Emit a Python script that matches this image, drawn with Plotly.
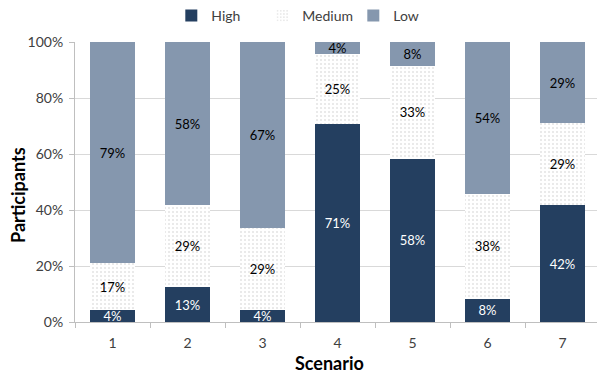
import plotly.graph_objects as go

scenarios = [1, 2, 3, 4, 5, 6, 7]
high = [4.2, 12.5, 4.2, 70.8, 58.3, 8.3, 41.7]
medium = [16.7, 29.2, 29.2, 25.0, 33.3, 37.5, 29.2]
low = [79.2, 58.3, 66.7, 4.2, 8.3, 54.2, 29.2]
y_ticks = [0, 20, 40, 60, 80, 100]
y_tick_labels = ["0%", "20%", "40%", "60%", "80%", "100%"]

FONT = "Lato, Carlito, 'Open Sans', sans-serif"
BAR_W = 0.61

fig = go.Figure()
fig.add_bar(
    x=scenarios, y=high, name="High", width=BAR_W,
    marker=dict(color="#243F60", line=dict(width=0)),
    texttemplate="%{y:.0f}%", textposition="inside", insidetextanchor="middle",
    textfont=dict(color="white", size=13, family=FONT),
    constraintext="none",
)
fig.add_bar(
    x=scenarios, y=medium, name="Medium", width=BAR_W,
    marker=dict(color="white", line=dict(width=0),
                pattern=dict(shape=".", fgcolor="#C8C8C8", bgcolor="white",
                             size=4, solidity=0.2)),
    texttemplate="%{y:.0f}%", textposition="inside", insidetextanchor="middle",
    textfont=dict(color="black", size=13, family=FONT),
    constraintext="none",
)
fig.add_bar(
    x=scenarios, y=low, name="Low", width=BAR_W,
    marker=dict(color="#8597AE", line=dict(width=0)),
    texttemplate="%{y:.0f}%", textposition="inside", insidetextanchor="middle",
    textfont=dict(color="black", size=13, family=FONT),
    constraintext="none",
)

fig.update_layout(
    barmode="stack",
    width=597, height=378,
    margin=dict(l=75, r=0, t=42, b=56),
    paper_bgcolor="white", plot_bgcolor="white",
    font=dict(family=FONT, size=13, color="#404040"),
    uniformtext=dict(mode="show", minsize=13),
    legend=dict(orientation="h", x=0.446, xanchor="center", y=1.0, yanchor="top",
                yref="container", font=dict(size=14, color="#404040"),
                traceorder="normal", itemwidth=30, entrywidth=46),
    xaxis=dict(
        range=[0.5, 7.46], tickmode="array", tickvals=scenarios,
        ticktext=[str(s) for s in scenarios], showgrid=False,
        showline=True, linecolor="#BFBFBF", linewidth=1,
        ticks="", zeroline=False, ticklabelstandoff=8,
        minor=dict(tickmode="array", tickvals=[s - 0.5 for s in scenarios] + [7.5],
                   ticks="outside", ticklen=5, tickcolor="#BFBFBF", tickwidth=1,
                   showgrid=False),
        tickfont=dict(size=14, color="#404040"),
    ),
    yaxis=dict(
        range=[0, 100], tickmode="array", tickvals=y_ticks, ticktext=y_tick_labels,
        showgrid=True, gridcolor="#D9D9D9", gridwidth=1,
        showline=True, linecolor="#BFBFBF", linewidth=1,
        ticks="outside", ticklen=5, tickcolor="#BFBFBF", zeroline=False,
        ticklabelstandoff=3,
        tickfont=dict(size=14, color="#404040"),
    ),
    annotations=[
        dict(text="<b>Scenario</b>", xref="paper", yref="paper", x=0.487, y=-0.146,
             xanchor="center", yanchor="middle", showarrow=False,
             font=dict(size=18, color="black", family=FONT)),
        dict(text="<b>Participants</b>", xref="paper", yref="paper", x=-0.109, y=0.454,
             xanchor="center", yanchor="middle", showarrow=False, textangle=-90,
             font=dict(size=18, color="black", family=FONT)),
    ],
)

fig.write_html("out.html")
